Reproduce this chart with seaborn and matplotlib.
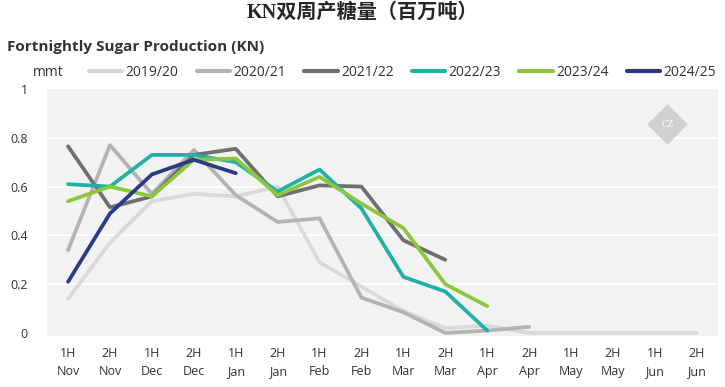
import matplotlib
matplotlib.use("Agg")
import matplotlib.pyplot as plt
import seaborn as sns
import pandas as pd
import numpy as np

# x categories (fortnights of the season)
halves = ["1H", "2H"] * 8
months = ["Nov", "Nov", "Dec", "Dec", "Jan", "Jan", "Feb", "Feb",
          "Mar", "Mar", "Apr", "Apr", "May", "May", "Jun", "Jun"]
tick_labels = [f"{h}\n{m}" for h, m in zip(halves, months)]

nan = np.nan
s_2019 = [0.14, 0.37, 0.54, 0.57, 0.56, 0.60, 0.29, 0.19, 0.09, 0.02, 0.03, 0.0, 0.0, 0.0, 0.0, 0.0]
s_2020 = [0.34, 0.77, 0.57, 0.75, 0.565, 0.455, 0.47, 0.145, 0.085, 0.0, 0.01, 0.025, nan, nan, nan, nan]
s_2021 = [0.765, 0.515, 0.56, 0.73, 0.755, 0.56, 0.605, 0.60, 0.38, 0.30, nan, nan, nan, nan, nan, nan]
s_2022 = [0.61, 0.60, 0.73, 0.73, 0.70, 0.58, 0.67, 0.51, 0.23, 0.17, 0.01, nan, nan, nan, nan, nan]
s_2023 = [0.54, 0.60, 0.56, 0.71, 0.715, 0.565, 0.64, 0.53, 0.43, 0.20, 0.11, nan, nan, nan, nan, nan]
s_2024 = [0.21, 0.49, 0.65, 0.71, 0.655, nan, nan, nan, nan, nan, nan, nan, nan, nan, nan, nan]

seasons = ["2019/20", "2020/21", "2021/22", "2022/23", "2023/24", "2024/25"]
colors = ["#d9d9d9", "#b3b3b3", "#6f6f6f", "#1fb1a6", "#8cc63e", "#2b3a86"]

rows = []
for name, vals in zip(seasons, [s_2019, s_2020, s_2021, s_2022, s_2023, s_2024]):
    for i, v in enumerate(vals):
        if not np.isnan(v):
            rows.append({"x": i, "value": v, "season": name})
df = pd.DataFrame(rows)

sns.set_style("white")
plt.rcParams["font.family"] = ["Open Sans", "DejaVu Sans"]

fig = plt.figure(figsize=(7.25, 3.87), dpi=100)
ax = fig.add_axes([0.065, 0.132, 0.925, 0.638])
ax.set_facecolor("#f2f2f2")

sns.lineplot(data=df, x="x", y="value", hue="season", hue_order=seasons,
             palette=colors, linewidth=2.7, sort=False, ax=ax, legend=False)

ax.set_xlim(-0.5, 15.5)
ax.set_ylim(-0.012, 1.0)
ax.set_xticks(range(16))
ax.set_xticklabels(tick_labels, fontsize=9, color="#333333", linespacing=1.5)
ax.set_yticks([0, 0.2, 0.4, 0.6, 0.8, 1.0])
ax.set_yticklabels(["0", "0.2", "0.4", "0.6", "0.8", "1"], fontsize=9, color="#333333")
ax.tick_params(axis="both", length=0, pad=8)
ax.tick_params(axis="y", pad=14)
ax.set_xlabel("")
ax.set_ylabel("")
for y in [0.2, 0.4, 0.6, 0.8]:
    ax.axhline(y, color="white", linewidth=1.2, zorder=0.5)
for sp in ax.spines.values():
    sp.set_visible(False)

# watermark diamond
ax.scatter([14.3], [0.855], marker="D", s=430, color="#d0d0d0", zorder=0.6, linewidths=0)
ax.text(14.3, 0.855, "CZ", ha="center", va="center", fontsize=7, color="white",
        family=["Liberation Serif"], zorder=0.7)

# legend
handles = [plt.Line2D([0], [0], color=c, linewidth=3) for c in colors]
fig.legend(handles, seasons, loc="center left", bbox_to_anchor=(0.119, 0.812),
           ncol=6, frameon=False, fontsize=10, handlelength=2.4,
           handletextpad=0.25, columnspacing=1.3, labelcolor="#333333",
           borderaxespad=0, borderpad=0.2)
fig.text(0.045, 0.812, "mmt", fontsize=10, color="#333333", va="center")

fig.text(0.5, 0.968, "KN双周产糖量（百万吨）", ha="center", va="center",
         fontsize=14.5, fontweight="bold", family=["Liberation Serif", "Noto Sans CJK SC"])
fig.text(0.01, 0.878, "Fortnightly Sugar Production (KN)", ha="left", va="center",
         fontsize=11, fontweight="bold", color="#333333")

fig.savefig("out.png", dpi=100, facecolor="white")
